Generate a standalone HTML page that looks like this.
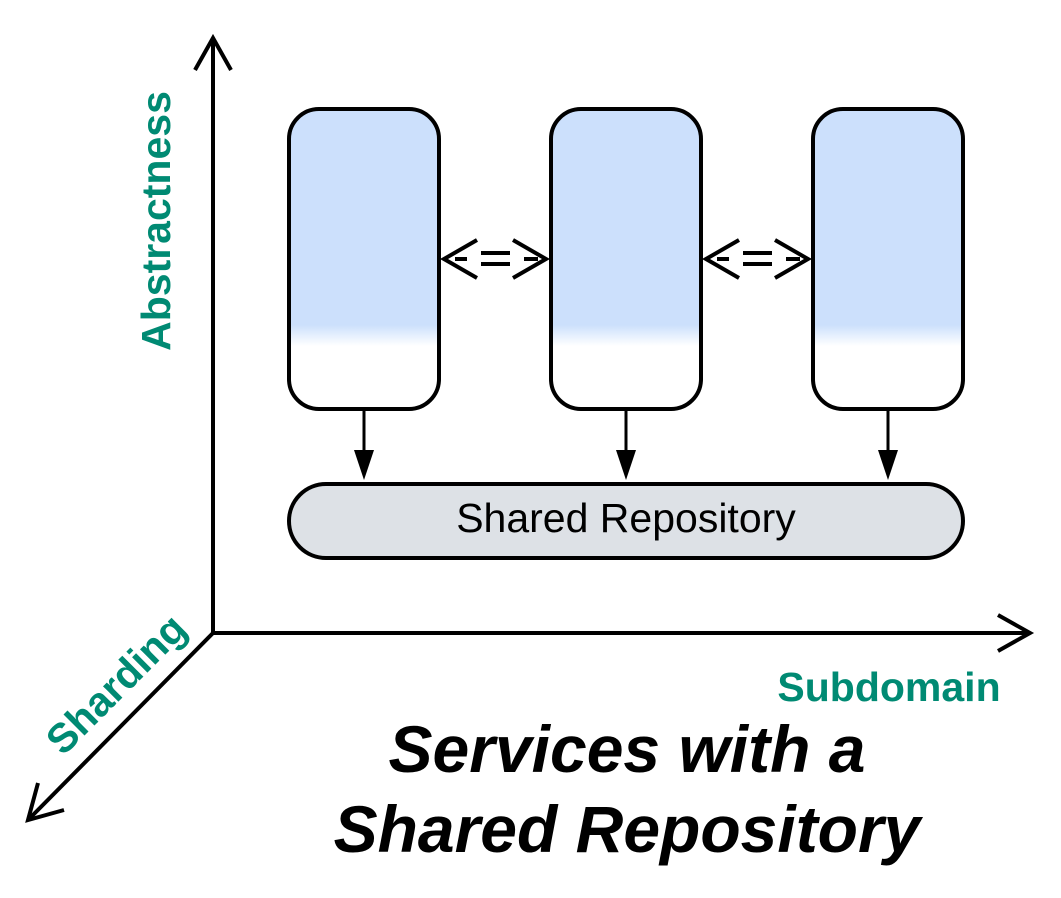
<!DOCTYPE html>
<html><head><style>body{margin:0;background:#fff}</style></head><body>
<svg width="1061" height="893" viewBox="0 0 1061 893" xmlns="http://www.w3.org/2000/svg" font-family="Liberation Sans, sans-serif">
<defs>
<linearGradient id="g" x1="0" y1="0" x2="0" y2="1">
<stop offset="0" stop-color="#cce0fc"/><stop offset="0.72" stop-color="#cce0fc"/><stop offset="0.79" stop-color="#fff"/><stop offset="1" stop-color="#fff"/>
</linearGradient>
</defs>
<g stroke="#000" stroke-width="4" fill="none">
<line x1="213" y1="633" x2="213" y2="40"/><polyline points="195,70 213,38 231,70"/>
<line x1="213" y1="633" x2="1028" y2="633"/><polyline points="998,615 1030,633 998,651"/>
<line x1="213" y1="633" x2="30" y2="818"/><polyline points="38,783 28,820 64,810"/>
</g>
<g stroke="#000" stroke-width="4" fill="url(#g)">
<rect x="289" y="109" width="150" height="300" rx="30"/>
<rect x="551" y="109" width="150" height="300" rx="30"/>
<rect x="813" y="109" width="150" height="300" rx="30"/>
</g>
<rect x="289" y="484" width="674" height="74" rx="37" fill="#dde1e6" stroke="#000" stroke-width="4"/>
<text x="626" y="532" text-anchor="middle" font-size="41">Shared Repository</text>
<g stroke="#000" stroke-width="3">
<line x1="364" y1="409" x2="364" y2="455"/><line x1="626" y1="409" x2="626" y2="455"/><line x1="888" y1="409" x2="888" y2="455"/>
</g>
<g fill="#000">
<polygon points="354,450 374,450 364,480"/><polygon points="616,450 636,450 626,480"/><polygon points="878,450 898,450 888,480"/>
</g>
<g stroke="#000" stroke-width="4" fill="none">
<polyline points="477,240 444,259 477,278"/><polyline points="513,240 546,259 513,278"/>
<line x1="455" y1="259" x2="467" y2="259"/><line x1="481" y1="253" x2="510" y2="253"/><line x1="481" y1="264" x2="510" y2="264"/><line x1="524" y1="259" x2="538" y2="259"/>
<polyline points="739,240 706,259 739,278"/><polyline points="775,240 808,259 775,278"/>
<line x1="717" y1="259" x2="729" y2="259"/><line x1="743" y1="253" x2="772" y2="253"/><line x1="743" y1="264" x2="772" y2="264"/><line x1="786" y1="259" x2="800" y2="259"/>
</g>
<g fill="#008a73" font-weight="bold" font-size="41">
<text transform="translate(170,221) rotate(-90)" text-anchor="middle">Abstractness</text>
<text x="889" y="701" text-anchor="middle">Subdomain</text>
<text transform="translate(126,694) rotate(-45)" text-anchor="middle">Sharding</text>
</g>
<g font-weight="bold" font-style="italic" font-size="66" text-anchor="middle">
<text x="627" y="772">Services with a</text>
<text x="627" y="852">Shared Repository</text>
</g>
</svg>
</body></html>
